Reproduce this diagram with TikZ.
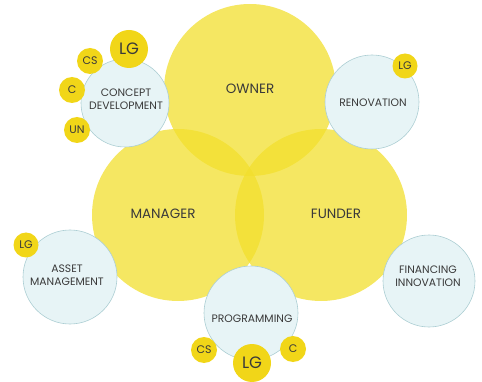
\documentclass[tikz,border=0pt]{standalone}
\usepackage{fontspec}
\setmainfont{Poppins}
\definecolor{bigy}{RGB}{242,223,45}
\definecolor{smally}{RGB}{241,214,24}
\definecolor{bluef}{RGB}{231,244,246}
\definecolor{blued}{RGB}{172,206,211}
\definecolor{txt}{RGB}{58,58,58}
\begin{document}
\begin{tikzpicture}[x=1pt,y=-1pt]
\tikzset{
  big/.style={circle, fill=bigy, fill opacity=0.75, minimum size=172pt, inner sep=0pt},
  bigtext/.style={text=txt, font=\fontsize{13.5}{15}\selectfont},
  blue/.style={circle, fill=bluef, draw=blued, line width=0.6pt, inner sep=0pt},
  bluetext/.style={text=txt, align=center, font=\fontsize{10.8}{13}\selectfont},
  dot/.style={circle, fill=smally, inner sep=0pt, text=txt},
}
\useasboundingbox (0,0) rectangle (482,382);
% big circles
\node[big] (owner) at (250,90) {};
\node[big] (manager) at (178,215) {};
\node[big] (funder) at (321,215) {};
\node[bigtext] (ownerT) at (250,89) {OWNER};
\node[bigtext] (managerT) at (163,214) {MANAGER};
\node[bigtext] (funderT) at (336,214) {FUNDER};
% blue circles
\node[blue, minimum size=88pt] (concept) at (125,103) {};
\node[blue, minimum size=94pt] (renov) at (372,102) {};
\node[blue, minimum size=94pt] (asset) at (70,277) {};
\node[blue, minimum size=94pt] (prog) at (251,313) {};
\node[blue, minimum size=92pt] (fin) at (429,281) {};
\node[bluetext] (conceptT) at (126,99.5) {CONCEPT\\DEVELOPMENT};
\node[bluetext] (renovT) at (373,103) {RENOVATION};
\node[bluetext] (assetT) at (67,275) {ASSET\\MANAGEMENT};
\node[bluetext] (progT) at (252,319) {PROGRAMMING};
\node[bluetext] (finT) at (428,276) {FINANCING\\INNOVATION};
% small yellow circles
\node[dot, minimum size=38pt, font=\fontsize{16.5}{18}\selectfont] (cLG) at (129,49) {LG};
\node[dot, minimum size=26pt, font=\fontsize{11}{12}\selectfont] (cCS) at (90,61) {CS};
\node[dot, minimum size=26pt, font=\fontsize{11}{12}\selectfont] (cC) at (72,90) {C};
\node[dot, minimum size=26pt, font=\fontsize{11}{12}\selectfont] (cUN) at (77,130) {UN};
\node[dot, minimum size=25pt, font=\fontsize{11}{12}\selectfont] (rLG) at (405,66) {LG};
\node[dot, minimum size=25pt, font=\fontsize{11}{12}\selectfont] (aLG) at (26,245) {LG};
\node[dot, minimum size=26pt, font=\fontsize{11}{12}\selectfont] (pCS) at (204,350) {CS};
\node[dot, minimum size=38pt, font=\fontsize{16.5}{18}\selectfont] (pLG) at (252,363) {LG};
\node[dot, minimum size=26pt, font=\fontsize{11}{12}\selectfont] (pC) at (293,349) {C};
\end{tikzpicture}
\end{document}
